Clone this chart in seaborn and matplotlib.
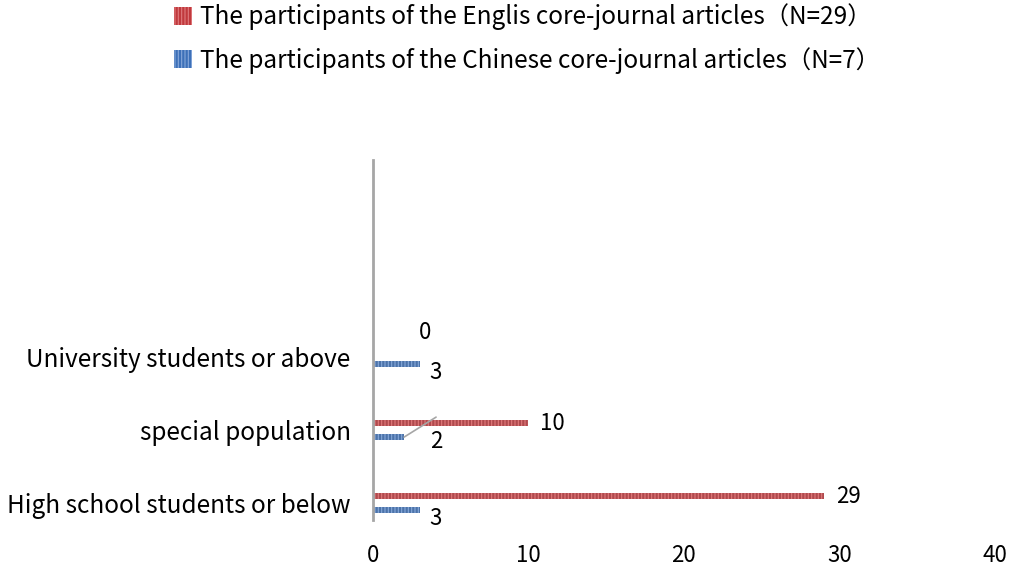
import matplotlib
matplotlib.use("Agg")
import matplotlib.pyplot as plt
import matplotlib.patches as mpatches
import seaborn as sns
import pandas as pd

# data
groups = ["University students or above", "special population", "High school students or below"]
english = [0, 10, 29]
chinese = [3, 2, 3]
series = ["The participants of the Englis core-journal articles（N=29）",
          "The participants of the Chinese core-journal articles（N=7）"]
colors = ["#C0393D", "#3D70B8"]
hatch_colors = ["#E07A7C", "#86A8DA"]

sns.set_style("white")
plt.rcParams["font.family"] = ["Noto Sans CJK SC", "DejaVu Sans"]
plt.rcParams["hatch.linewidth"] = 0.8
plt.rcParams["text.color"] = "black"
plt.rcParams["xtick.color"] = "black"
plt.rcParams["ytick.color"] = "black"

df = pd.DataFrame({
    "group": groups * 2,
    "count": english + chinese,
    "series": [series[0]] * 3 + [series[1]] * 3,
})

fig = plt.figure(figsize=(10.21, 5.72), dpi=100)
ax = fig.add_axes([0.3653, 0.0909, 0.6092, 0.6294])

sns.barplot(data=df, y="group", x="count", hue="series", order=groups,
            hue_order=series, palette=dict(zip(series, colors)), orient="h",
            width=0.38, gap=0.6, legend=False, ax=ax)

for cont, hc in zip(ax.containers, hatch_colors):
    for bar in cont:
        bar.set_hatch("|||||")
        bar.set_edgecolor(hc)
        bar.set_linewidth(0)

ax.set_xlim(0, 40)
ax.set_xticks([0, 10, 20, 30, 40])
ax.set_ylim(2.23, -2.7)
ax.set_xlabel("")
ax.set_ylabel("")
ax.tick_params(axis="x", length=0, pad=17, labelsize=16)
ax.tick_params(axis="y", length=0, pad=16, labelsize=17.5)
for s in ["top", "right", "bottom"]:
    ax.spines[s].set_visible(False)
ax.spines["left"].set_color("#A6A6A6")
ax.spines["left"].set_linewidth(2)

# data labels
red_bars, blue_bars = ax.containers[0], ax.containers[1]
for bar, v in zip(red_bars, english):
    yc = bar.get_y() + bar.get_height() / 2
    if v == 0:
        ax.annotate(str(v), (v, yc), xytext=(46, 18), textcoords="offset pixels",
                    ha="left", va="center", fontsize=16)
    else:
        ax.annotate(str(v), (v, yc), xytext=(12, 0), textcoords="offset pixels",
                    ha="left", va="center", fontsize=16)
for bar, v in zip(blue_bars, chinese):
    yc = bar.get_y() + bar.get_height() / 2
    if v == 2:
        ax.annotate(str(v), (v, yc), xytext=(26, -4), textcoords="offset pixels",
                    ha="left", va="center", fontsize=16)
        ax.annotate("", (v, yc), xytext=(32, 20), textcoords="offset pixels",
                    arrowprops=dict(arrowstyle="-", color="#A6A6A6", lw=1.2,
                                    shrinkA=0, shrinkB=0))
    else:
        ax.annotate(str(v), (v, yc), xytext=(10, -8), textcoords="offset pixels",
                    ha="left", va="center", fontsize=16)

handles = [mpatches.Patch(facecolor=c, edgecolor=hc, hatch="|||||", linewidth=0, label=s)
           for c, hc, s in zip(colors, hatch_colors, series)]
fig.legend(handles=handles, loc="upper left", bbox_to_anchor=(0.149, 1.032),
           frameon=False, fontsize=17.5, handlelength=0.75, handleheight=0.75,
           handletextpad=0.3, labelspacing=0.68)

fig.savefig("out.png", dpi=100)
